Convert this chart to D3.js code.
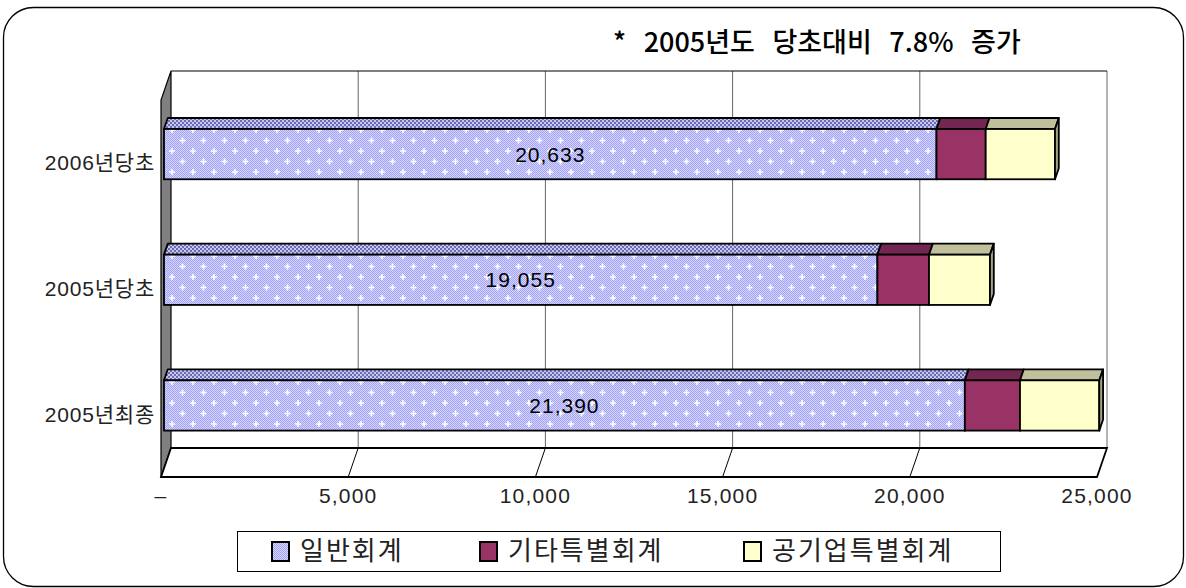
<!DOCTYPE html>
<html lang="ko">
<head>
<meta charset="UTF-8">
<title>회계별 예산 비교</title>
<style>
    *{ box-sizing: border-box; }
    html,body{ margin:0; padding:0; background:#fff; }
    #main{ width:1186px; height:588px; }
    text{ font-family:"Liberation Sans","Noto Sans CJK KR",sans-serif; }
</style>
</head>
<body>
<div id="main"></div>
<script src="https://d3js.org/d3.v7.min.js"></script>
<script>
    /*=========== 1-데이터 ===========*/
    const categories = ['2006년당초', '2005년당초', '2005년최종'];
    const general    = [20633, 19055, 21390];   // 일반회계
    const other      = [1314, 1378, 1473];      // 기타특별회계
    const enterprise = [1851, 1629, 2118];      // 공기업특별회계
    const seriesNames = ['일반회계', '기타특별회계', '공기업특별회계'];
    const xTicks = [0, 5000, 10000, 15000, 20000, 25000];
    const title = '* 2005년도 당초대비 7.8% 증가';

    /*=========== 2-캔버스 ===========*/
    const width = 1186, height = 588;
    const svg = d3.select('#main').append('svg')
        .attr('width', width).attr('height', height)
        .attr('viewBox', `0 0 ${width} ${height}`);

    const defs = svg.append('defs');
    // 일반회계 앞면 : 잔 체크 + 흰 십자
    const chk = defs.append('pattern').attr('id', 'chk')
        .attr('width', 2).attr('height', 2).attr('patternUnits', 'userSpaceOnUse');
    chk.append('rect').attr('width', 2).attr('height', 2).attr('fill', '#d4d4ff');
    chk.append('rect').attr('width', 1).attr('height', 1).attr('fill', '#a4a4f6');
    chk.append('rect').attr('x', 1).attr('y', 1).attr('width', 1).attr('height', 1).attr('fill', '#a4a4f6');

    const spark = defs.append('pattern').attr('id', 'spark')
        .attr('width', 21).attr('height', 21).attr('patternUnits', 'userSpaceOnUse');
    spark.append('path').attr('d', 'M4,1v6M1,4h6M14.5,11.5v6M11.5,14.5h6')
        .attr('stroke', '#fff').attr('stroke-width', 1.6);

    // 일반회계 윗면 : 굵은 체크
    const chk2 = defs.append('pattern').attr('id', 'chk2')
        .attr('width', 4).attr('height', 4).attr('patternUnits', 'userSpaceOnUse');
    chk2.append('rect').attr('width', 4).attr('height', 4).attr('fill', '#c8c8e8');
    chk2.append('rect').attr('width', 2).attr('height', 2).attr('fill', '#6a6ab8');
    chk2.append('rect').attr('x', 2).attr('y', 2).attr('width', 2).attr('height', 2).attr('fill', '#6a6ab8');

    // 바깥 둥근 테두리
    svg.append('rect')
        .attr('x', 3.5).attr('y', 7.5).attr('width', 1180).attr('height', 579)
        .attr('rx', 30).attr('fill', 'none').attr('stroke', '#000').attr('stroke-width', 1.3);

    /*=========== 3-스케일 ===========*/
    const DX = 10, DY = -29;            // 3D 깊이
    const floorY = 477, topY = 100;     // 앞면 기준
    const xScale = d3.scaleLinear().domain([0, 25000]).range([161, 1097]);
    const yScale = d3.scaleBand().domain(categories)
        .range([topY, floorY]).paddingInner(0.6).paddingOuter(0.3);

    /*=========== 4-벽과 바닥 ===========*/
    const g = svg.append('g');
    // 왼쪽 벽
    g.append('path')
        .attr('d', `M${xScale(0) + DX},${topY + DY}V${floorY + DY}L${xScale(0)},${floorY}V${topY}Z`)
        .attr('fill', '#808080').attr('stroke', '#000').attr('stroke-width', 1.2);
    // 뒷벽 그리드
    g.selectAll('.grid').data(xTicks.slice(1)).join('line')
        .attr('x1', d => xScale(d) + DX).attr('x2', d => xScale(d) + DX)
        .attr('y1', topY + DY).attr('y2', floorY + DY)
        .attr('stroke', '#666').attr('stroke-width', 1);
    g.append('line')
        .attr('x1', xScale(0) + DX).attr('x2', xScale(25000) + DX)
        .attr('y1', topY + DY).attr('y2', topY + DY)
        .attr('stroke', '#000').attr('stroke-width', 1.2);
    // 바닥
    g.append('path')
        .attr('d', `M${xScale(0) + DX},${floorY + DY}H${xScale(25000) + DX}L${xScale(25000)},${floorY}H${xScale(0)}Z`)
        .attr('fill', '#fff').attr('stroke', '#000').attr('stroke-width', 1.8);
    g.selectAll('.diag').data(xTicks.slice(1, -1)).join('line')
        .attr('x1', d => xScale(d) + DX).attr('y1', floorY + DY)
        .attr('x2', d => xScale(d)).attr('y2', floorY)
        .attr('stroke', '#000').attr('stroke-width', 1);

    // x축 라벨
    const fmt = d3.format(',');
    g.selectAll('.xl').data(xTicks).join('text')
        .attr('x', d => xScale(d)).attr('y', 503)
        .attr('text-anchor', 'middle')
        .attr('font-size', 21).attr('letter-spacing', 1.2).attr('fill', '#222')
        .text(d => d === 0 ? '–' : fmt(d));

    // y축 라벨
    g.selectAll('.yl').data(categories).join('text')
        .attr('x', 155).attr('y', d => yScale(d) + yScale.bandwidth() / 2)
        .attr('dy', '0.36em').attr('text-anchor', 'end')
        .attr('font-size', 21).attr('letter-spacing', 0.8).attr('fill', '#222')
        .text(d => d);

    /*=========== 5-막대 ===========*/
    const t0 = 0.3, t1 = 0.68;   // 막대 앞면/뒷면 깊이
    const fx = DX * t0, fy = DY * t0;
    const bx = DX * (t1 - t0), by = DY * (t1 - t0);
    const fronts = ['url(#chk)', '#993366', '#ffffcc'];
    const tops = ['url(#chk2)', '#732650', '#c0c09c'];
    const side = '#a4a484';

    categories.forEach((c, i) => {
        const vals = [general[i], other[i], enterprise[i]];
        const stops = d3.cumsum(vals);
        const y0 = yScale(c) + fy, y1 = y0 + yScale.bandwidth();
        const bar = g.append('g');
        vals.forEach((v, k) => {
            const xa = xScale(stops[k] - v) + fx, xb = xScale(stops[k]) + fx;
            bar.append('path')
                .attr('d', `M${xa},${y0}L${xa + bx},${y0 + by}H${xb + bx}L${xb},${y0}Z`)
                .attr('fill', tops[k]).attr('stroke', '#000').attr('stroke-width', 1.8)
                .attr('stroke-linejoin', 'round');
            bar.append('rect')
                .attr('x', xa).attr('y', y0).attr('width', xb - xa).attr('height', y1 - y0)
                .attr('fill', fronts[k]);
            if (k === 0) {
                bar.append('rect')
                    .attr('x', xa).attr('y', y0).attr('width', xb - xa).attr('height', y1 - y0)
                    .attr('fill', 'url(#spark)');
            }
            bar.append('rect')
                .attr('x', xa).attr('y', y0).attr('width', xb - xa).attr('height', y1 - y0)
                .attr('fill', 'none').attr('stroke', '#000').attr('stroke-width', 1.8);
            if (k === vals.length - 1) {
                bar.append('path')
                    .attr('d', `M${xb},${y0}L${xb + bx},${y0 + by}V${y1 + by}L${xb},${y1}Z`)
                    .attr('fill', side).attr('stroke', '#000').attr('stroke-width', 1.8)
                    .attr('stroke-linejoin', 'round');
            }
        });
        // 값 라벨
        bar.append('text')
            .attr('x', (xScale(0) + xScale(general[i])) / 2 + fx)
            .attr('y', (y0 + y1) / 2).attr('dy', '0.36em')
            .attr('text-anchor', 'middle').attr('font-size', 21).attr('letter-spacing', 1)
            .attr('fill', '#000').text(fmt(general[i]));
    });

    /*=========== 6-제목 ===========*/
    svg.append('text')
        .attr('x', 613).attr('y', 52)
        .attr('font-size', 27).attr('font-weight', 500).attr('word-spacing', 10)
        .style('font-family', '"Noto Sans CJK KR",sans-serif')
        .attr('fill', '#000').text(title);

    /*=========== 7-범례 ===========*/
    const lg = svg.append('g');
    lg.append('rect').attr('x', 237.5).attr('y', 531.5).attr('width', 763).attr('height', 40)
        .attr('fill', '#fff').attr('stroke', '#000').attr('stroke-width', 1);
    const legendX = [272, 480, 744];
    seriesNames.forEach((name, k) => {
        lg.append('rect').attr('x', legendX[k]).attr('y', 542).attr('width', 17).attr('height', 19)
            .attr('fill', fronts[k]).attr('stroke', '#000').attr('stroke-width', 2);
        lg.append('text').attr('x', legendX[k] + 28).attr('y', 551).attr('dy', '0.36em')
            .attr('font-size', 26).attr('letter-spacing', 2).attr('fill', '#222')
            .style('font-family', '"Noto Sans CJK KR",sans-serif')
            .text(name);
    });
</script>
</body>
</html>
